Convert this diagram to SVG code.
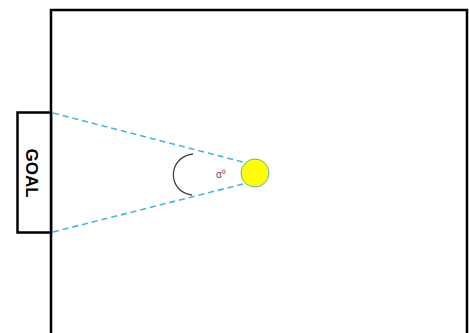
<svg xmlns="http://www.w3.org/2000/svg" width="469" height="333" viewBox="0 0 469 333">
<style>
.frame{fill:#fff;stroke:#000;stroke-width:2.5}
.sight{stroke:#41b6e6;stroke-width:1.6;stroke-dasharray:6,4;fill:none}
.lbl{font-family:"Liberation Sans",Arial,sans-serif}
</style>
<rect width="469" height="333" fill="#fff"/>
<g id="field"><path class="frame" d="M51,340 V10 H467 V340"/></g>
<g id="goal">
<rect class="frame" x="17.5" y="112.5" width="33.5" height="120"/>
<text class="lbl" transform="translate(26,173) rotate(90)" text-anchor="middle" font-size="17" font-weight="bold" fill="#000">GOAL</text>
</g>
<g id="connectors">
<line class="sight" x1="53" y1="113" x2="243" y2="162"/>
<line class="sight" x1="53" y1="232" x2="243" y2="184"/>
</g>
<g id="angle">
<path d="M193,154 C167,157 167,192 192,195" fill="none" stroke="#444" stroke-width="1.3"/>
<text class="lbl" x="216" y="178" font-size="10" fill="#555">α⁰</text>
</g>
<g id="ball"><circle cx="255" cy="173" r="14" fill="#ffff00" stroke="#5ab4b4" stroke-width="1"/></g>
</svg>
